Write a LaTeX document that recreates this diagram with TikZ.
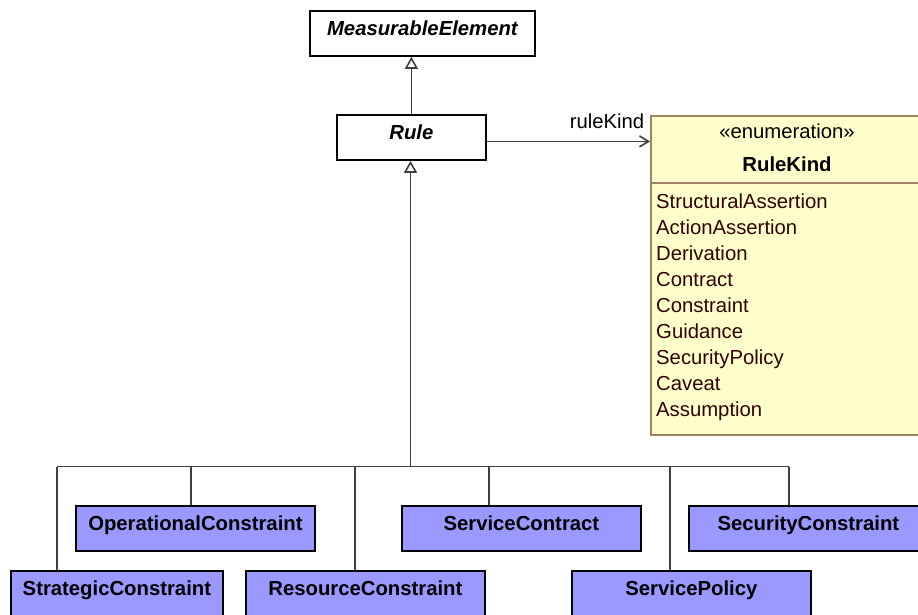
\documentclass[tikz,border=0pt]{standalone}
\usepackage{fontspec}
\setmainfont{Liberation Sans}
\usetikzlibrary{arrows.meta}
\definecolor{cls}{HTML}{9999FF}
\definecolor{enumfill}{HTML}{FFFFCC}
\definecolor{enumline}{HTML}{A08462}
\definecolor{enumtext}{HTML}{330000}
\definecolor{conn}{HTML}{404040}
\begin{document}
\begin{tikzpicture}[x=1pt,y=-1pt,
  every node/.style={inner sep=0pt, font=\fontsize{20.3}{26}\selectfont},
  absbox/.style={draw=black, line width=1.8pt, fill=white, anchor=north west,
    minimum height=45pt, text height=10pt, text depth=5pt,
    font=\fontsize{20.3}{26}\selectfont\bfseries\itshape},
  clsbox/.style={draw=black, line width=1.8pt, fill=cls, anchor=north west,
    minimum height=45pt, text height=10pt, text depth=5pt,
    font=\fontsize{20.3}{26}\selectfont\bfseries},
  enumbox/.style={draw=enumline, line width=1.6pt, fill=enumfill, anchor=north west},
  enumitem/.style={anchor=base west, text=enumtext},
  conn/.style={draw=conn, line width=1.6pt},
  gen/.style={conn, -{Triangle[open, length=12pt, width=13pt, fill=white]}},
  assoc/.style={conn, -{Straight Barb[length=9pt, width=11pt]}}
]
\useasboundingbox (0,0) rectangle (918,614);
\clip (0,0) rectangle (918,614);

% classes
\node[absbox, minimum width=225pt] (me) at (309,10) {MeasurableElement};
\node[absbox, minimum width=149pt] (rule) at (336,114) {Rule};

% enumeration
\node[enumbox, minimum width=274pt, minimum height=319pt] (rk) at (650,115) {};
\draw[enumline, line width=1.4pt] ([yshift=-68pt]rk.north west) -- ([yshift=-68pt]rk.north east);
\node[anchor=base, text=black] (st) at (787,138) {«enumeration»};
\node[anchor=base, text=black, font=\fontsize{20.3}{26}\selectfont\bfseries] (rkn) at (787,171.5) {RuleKind};
\node[enumitem] (l1) at (656,208) {StructuralAssertion};
\node[enumitem] (l2) at (656,234) {ActionAssertion};
\node[enumitem] (l3) at (656,260) {Derivation};
\node[enumitem] (l4) at (656,286) {Contract};
\node[enumitem] (l5) at (656,312) {Constraint};
\node[enumitem] (l6) at (656,338) {Guidance};
\node[enumitem] (l7) at (656,364) {SecurityPolicy};
\node[enumitem] (l8) at (656,390) {Caveat};
\node[enumitem] (l9) at (656,416) {Assumption};

% subclasses
\node[clsbox, minimum width=239pt] (oc) at (75,505) {OperationalConstraint};
\node[clsbox, minimum width=239pt] (sc) at (401,505) {ServiceContract};
\node[clsbox, minimum width=239pt] (sec) at (688,505) {SecurityConstraint};
\node[clsbox, minimum width=212pt] (strat) at (10,570) {StrategicConstraint};
\node[clsbox, minimum width=239pt] (rc) at (245,570) {ResourceConstraint};
\node[clsbox, minimum width=239pt] (sp) at (571,570) {ServicePolicy};

% generalization to MeasurableElement
\draw[gen] (rule.north) -- (rule.north |- me.south);

% association
\coordinate (ra) at ([yshift=-4pt]rule.east);
\draw[assoc] (ra) -- (ra -| rk.west);
\node[anchor=base] (lbl) at (607,128) {ruleKind};

% generalization tree
\coordinate (hub) at (410.5,466.5);
\coordinate (d1) at (57,466.5);
\coordinate (d2) at (191,466.5);
\coordinate (d3) at (355,466.5);
\coordinate (d4) at (489,466.5);
\coordinate (d5) at (670,466.5);
\coordinate (d6) at (789,466.5);
\draw[gen] (hub) -- (hub |- rule.south);
\draw[conn] (d1) -- (d6);
\draw[conn] (d1) -- (d1 |- strat.north);
\draw[conn] (d2) -- (d2 |- oc.north);
\draw[conn] (d3) -- (d3 |- rc.north);
\draw[conn] (d4) -- (d4 |- sc.north);
\draw[conn] (d5) -- (d5 |- sp.north);
\draw[conn] (d6) -- (d6 |- sec.north);
\end{tikzpicture}
\end{document}
